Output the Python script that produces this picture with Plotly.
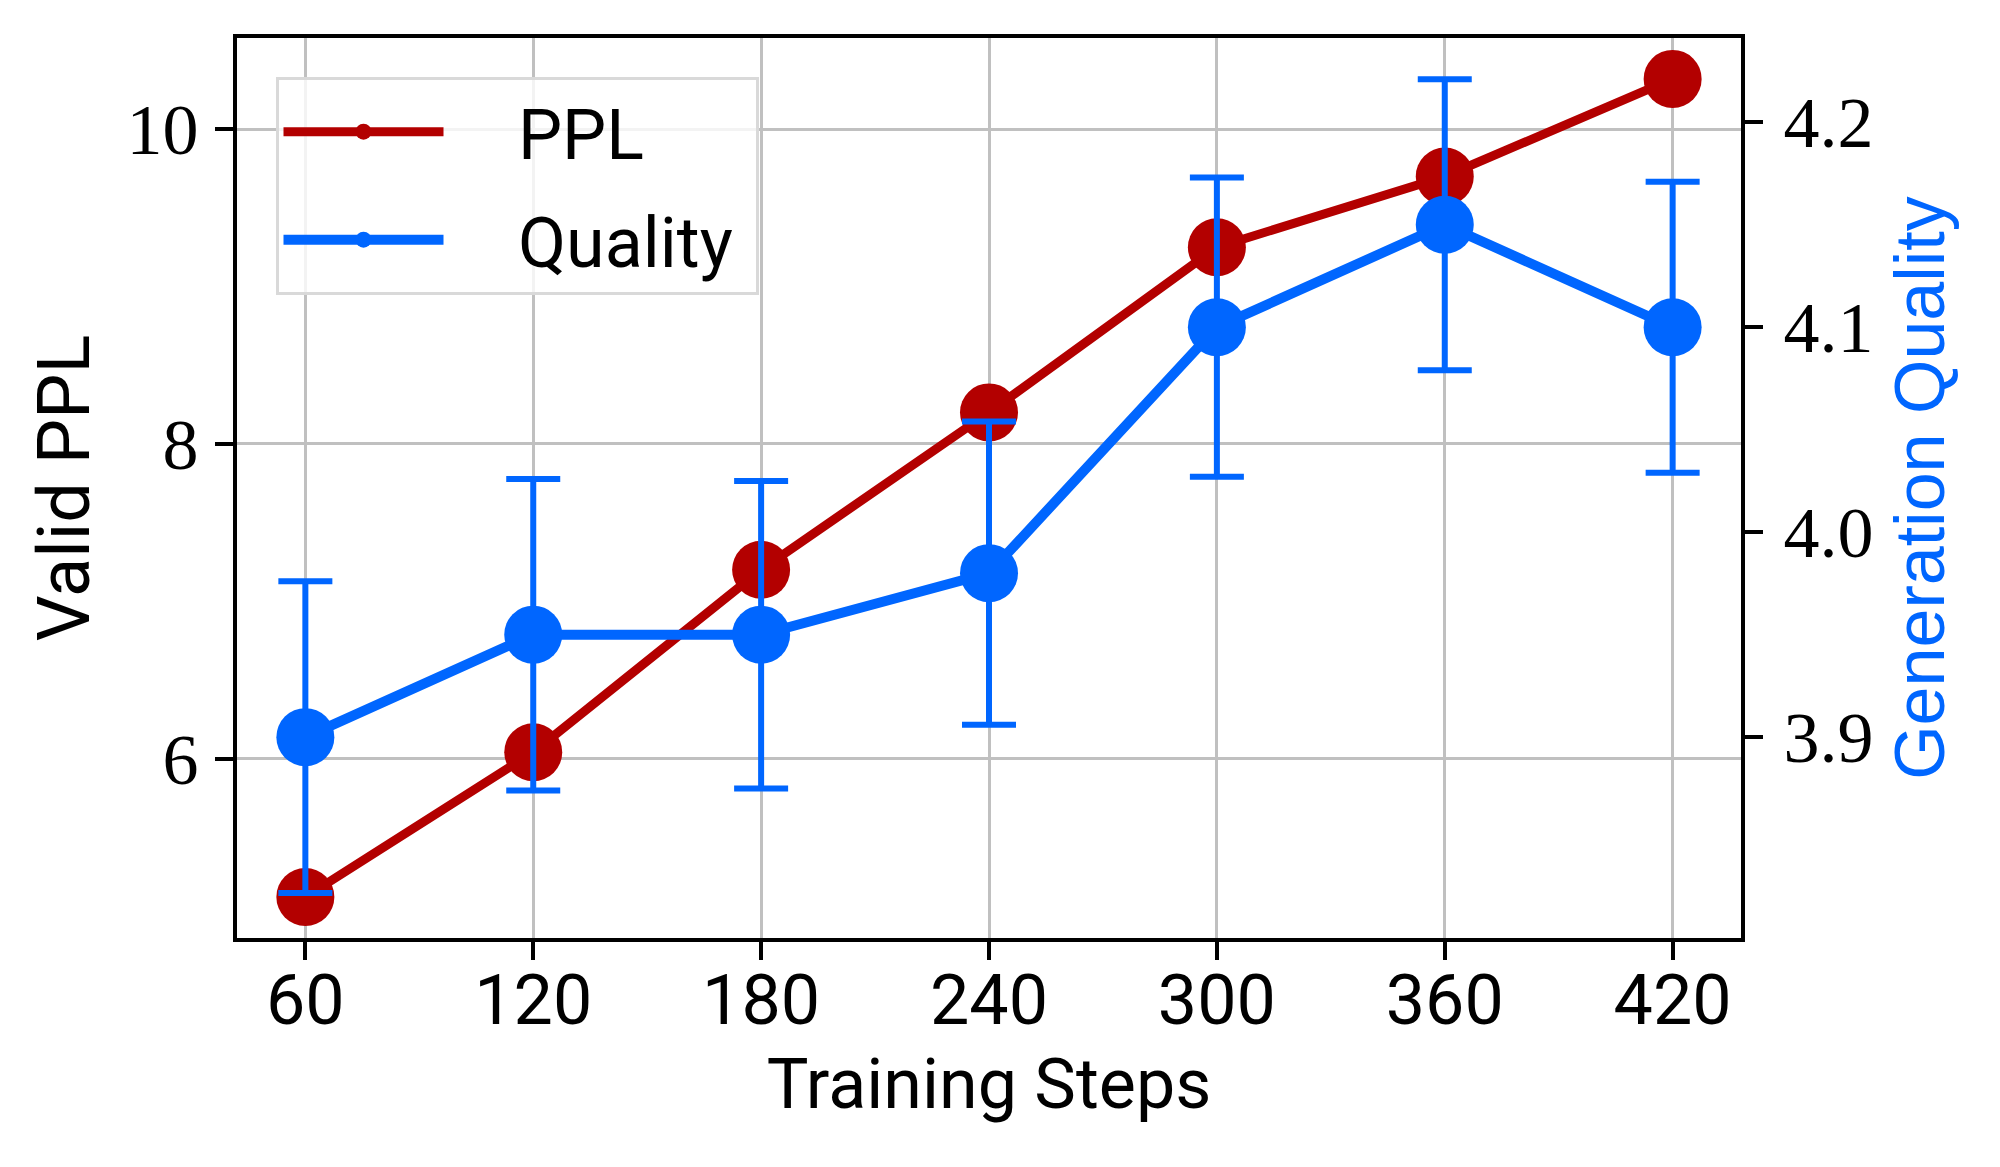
import plotly.graph_objects as go

# ---- data ----
steps = [60, 120, 180, 240, 300, 360, 420]
ppl = [5.12, 6.04, 7.20, 8.20, 9.25, 9.70, 10.32]
quality = [3.90, 3.95, 3.95, 3.98, 4.10, 4.15, 4.10]
quality_err = [0.076, 0.076, 0.075, 0.074, 0.073, 0.071, 0.071]
ppl_ticks = [6, 8, 10]
quality_ticks = [3.9, 4.0, 4.1, 4.2]
series_names = ["PPL", "Quality"]

RED = "#b30000"
BLUE = "#0066ff"
SANS = "Roboto"
SERIF = "Liberation Serif"
PAD_L = "\u00a0\u00a0\u00a0\u00a0"  # spacing between legend swatch and its label
PAD_R = "\u00a0"

fig = go.Figure()
fig.add_trace(go.Scatter(
    x=steps, y=ppl, name=PAD_L + series_names[0] + PAD_R, mode="lines+markers",
    legendgroup="a",
    line=dict(color=RED, width=9),
    marker=dict(size=58, color=RED),
))
fig.add_trace(go.Scatter(
    x=steps, y=quality, name=PAD_L + series_names[1] + PAD_R, mode="lines+markers",
    yaxis="y2", legendgroup="b",
    line=dict(color=BLUE, width=10),
    marker=dict(size=58, color=BLUE),
    error_y=dict(type="data", array=quality_err, visible=True,
                 color=BLUE, thickness=6, width=27),
))

fig.update_layout(
    width=2000, height=1167,
    margin=dict(l=237, r=259, t=38, b=229),
    paper_bgcolor="white", plot_bgcolor="white",
    showlegend=True,
    legend=dict(
        x=0.0256, y=0.957, xanchor="left", yanchor="top",
        bgcolor="rgba(255,255,255,0.8)", bordercolor="#d9d9d9", borderwidth=3,
        font=dict(family=SANS, size=70, color="black"),
        itemwidth=160, tracegroupgap=14, traceorder="grouped",
    ),
    xaxis=dict(
        range=[42, 438], tickvals=steps, ticktext=[str(s) for s in steps],
        showgrid=True, gridcolor="#c0c0c0", gridwidth=3,
        showline=True, linecolor="black", linewidth=4, mirror=True,
        ticks="outside", ticklen=18, tickwidth=4, tickcolor="black",
        tickfont=dict(family=SANS, size=70, color="black"),
        ticklabelstandoff=-20,
        title=dict(text="Training Steps", font=dict(family=SANS, size=70, color="black"),
                   standoff=20),
        zeroline=False,
    ),
    yaxis=dict(
        range=[4.859, 10.58], tickvals=ppl_ticks, ticktext=[str(v) for v in ppl_ticks],
        showgrid=True, gridcolor="#c0c0c0", gridwidth=3,
        showline=True, linecolor="black", linewidth=4, mirror=True,
        ticks="outside", ticklen=18, tickwidth=4, tickcolor="black",
        tickfont=dict(family=SERIF, size=72, color="black"),
        ticklabelstandoff=2,
        title=dict(text="Valid PPL", font=dict(family=SANS, size=72, color="black"),
                   standoff=14),
        zeroline=False,
    ),
    yaxis2=dict(
        overlaying="y", side="right",
        range=[3.802, 4.2411], tickvals=quality_ticks,
        ticktext=[f"{v:.1f}" for v in quality_ticks],
        showgrid=False,
        showline=True, linecolor="black", linewidth=4,
        ticks="outside", ticklen=18, tickwidth=4, tickcolor="black",
        tickfont=dict(family=SERIF, size=72, color="black"),
        ticklabelstandoff=6,
        title=dict(text="Generation Quality",
                   font=dict(family="Liberation Sans", size=70, color=BLUE),
                   standoff=24),
        zeroline=False,
    ),
)

fig.write_html("out.html")
